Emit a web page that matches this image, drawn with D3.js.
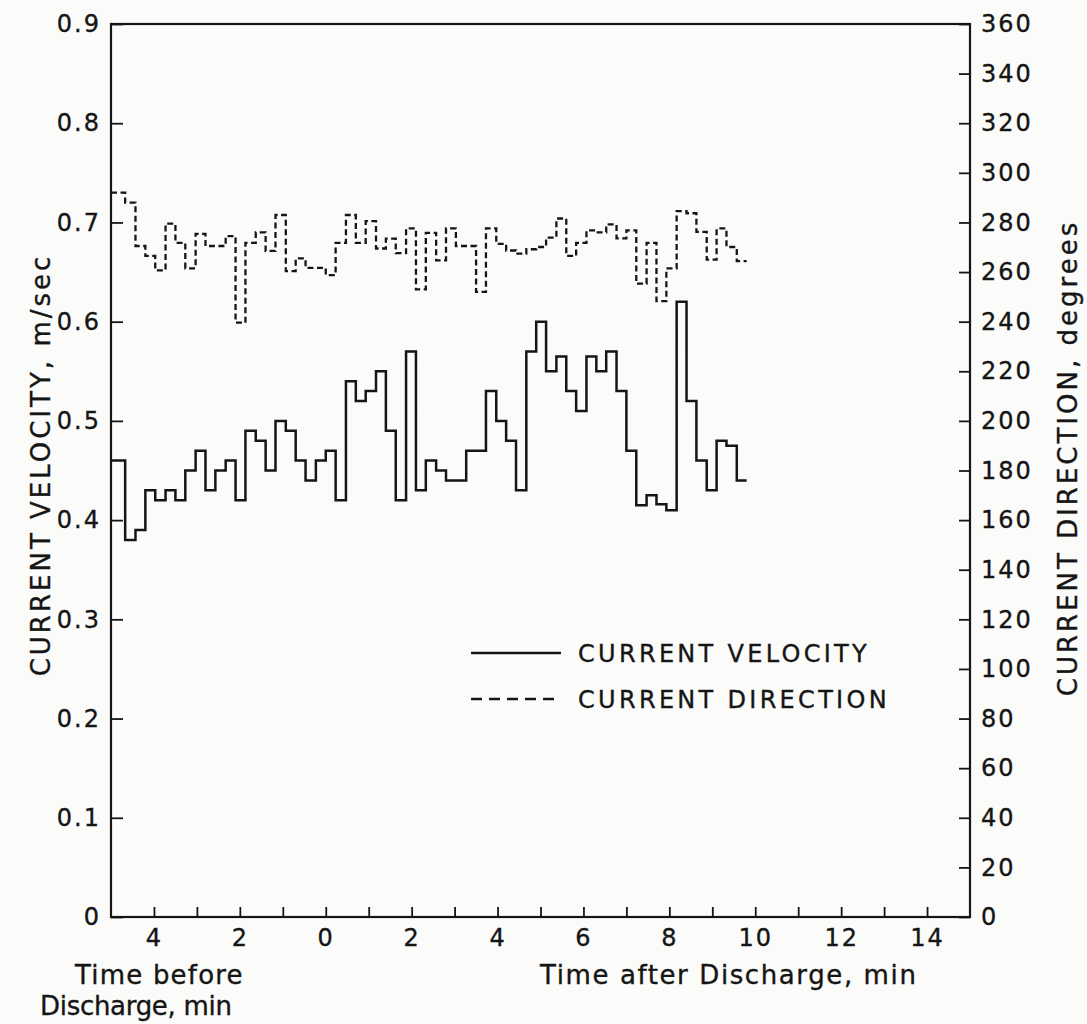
<!DOCTYPE html>
<html>
<head>
<meta charset="utf-8">
<script src="https://cdn.jsdelivr.net/npm/d3@7/dist/d3.min.js"></script>
<style>
  html, body { margin: 0; padding: 0; background: #fbfbf9; }
  svg { display: block; }
  text { font-family: "DejaVu Sans", sans-serif; fill: #151515; stroke: #151515; stroke-width: 0.35px; }
</style>
</head>
<body>
<svg id="chart" width="1087" height="1024"></svg>
<script>
// Step boundaries (minutes relative to discharge; negative = before discharge)
const stepTimes = [-5.00, -4.67, -4.43, -4.20, -3.97, -3.73, -3.50, -3.27, -3.03, -2.80,
  -2.57, -2.33, -2.10, -1.87, -1.63, -1.40, -1.17, -0.93, -0.70, -0.47,
  -0.23, 0.00, 0.23, 0.47, 0.70, 0.93, 1.17, 1.40, 1.63, 1.87,
  2.10, 2.33, 2.57, 2.80, 3.03, 3.27, 3.50, 3.73, 3.97, 4.20,
  4.43, 4.67, 4.90, 5.13, 5.37, 5.60, 5.83, 6.07, 6.30, 6.53,
  6.77, 7.00, 7.23, 7.47, 7.70, 7.93, 8.17, 8.40, 8.63, 8.87,
  9.10, 9.33, 9.57, 9.80];

// Current velocity, m/sec (one value per step)
const velocity = [0.46, 0.38, 0.39, 0.43, 0.42, 0.43, 0.42, 0.45, 0.47, 0.43,
  0.45, 0.46, 0.42, 0.49, 0.48, 0.45, 0.50, 0.49, 0.46, 0.44,
  0.46, 0.47, 0.42, 0.54, 0.52, 0.53, 0.55, 0.49, 0.42, 0.57,
  0.43, 0.46, 0.45, 0.44, 0.44, 0.47, 0.47, 0.53, 0.50, 0.48,
  0.43, 0.57, 0.60, 0.55, 0.565, 0.53, 0.51, 0.565, 0.55, 0.57,
  0.53, 0.47, 0.415, 0.425, 0.416, 0.41, 0.62, 0.52, 0.46, 0.43,
  0.48, 0.475, 0.44];

// Current direction, degrees (one value per step)
const direction = [292, 288, 270.5, 266.5, 260.7, 279.5, 271.8, 261.5, 275.4, 270.5,
  270.5, 274.5, 239.6, 271.8, 276, 268.5, 283, 260.4, 265.5, 261.7,
  261.7, 258.8, 271.8, 283, 271.8, 280.5, 269.5, 273.5, 267.6, 277.6,
  253, 275.8, 264.7, 277.6, 270.5, 270.5, 252, 277.6, 271.4, 268.7,
  267.4, 269.2, 270.1, 273.9, 281.6, 266.5, 271.8, 276.8, 276, 279.2,
  273.6, 276.8, 255.3, 271.8, 248.3, 261.5, 284.6, 283.7, 276.2, 265,
  277.6, 270.1, 264.4];

const xTickValues = [-4, -2, 0, 2, 4, 6, 8, 10, 12, 14];
const xTickLabels = ["4", "2", "0", "2", "4", "6", "8", "10", "12", "14"];
const xMinorTicks = [-4, -3, -2, -1, 0, 1, 2, 3, 4, 5, 6, 7, 8, 9, 10, 11, 12, 13, 14];
const velTicks = [0, 0.1, 0.2, 0.3, 0.4, 0.5, 0.6, 0.7, 0.8, 0.9];
const velTickLabels = ["0", "0.1", "0.2", "0.3", "0.4", "0.5", "0.6", "0.7", "0.8", "0.9"];
const dirTicks = [0, 20, 40, 60, 80, 100, 120, 140, 160, 180, 200, 220, 240, 260, 280, 300, 320, 340, 360];
const seriesNames = ["CURRENT VELOCITY", "CURRENT DIRECTION"];

const svg = d3.select("#chart");
const L = 111, R = 970, T = 24, B = 917;
const ink = "#151515";
const FONT = '"DejaVu Sans", sans-serif';

const x = d3.scaleLinear().domain([-5, 15]).range([L, R]);
const yV = d3.scaleLinear().domain([0, 0.9]).range([B, T]);
const yD = d3.scaleLinear().domain([0, 360]).range([B, T]);

// Frame
svg.append("rect")
  .attr("x", L).attr("y", T).attr("width", R - L).attr("height", B - T)
  .attr("fill", "none").attr("stroke", ink).attr("stroke-width", 2.2);

function styleAxis(g) {
  g.select(".domain").remove();
  g.selectAll(".tick line").attr("stroke", ink).attr("stroke-width", 1.8);
  g.selectAll(".tick text").attr("font-size", 24).attr("letter-spacing", 2)
    .style("font-family", FONT).attr("fill", ink);
}

// Bottom axis: minor ticks every minute, labels every 2
const xAxis = d3.axisBottom(x).tickValues(xMinorTicks)
  .tickSizeInner(-10).tickSizeOuter(0).tickPadding(12)
  .tickFormat(d => { const i = xTickValues.indexOf(d); return i >= 0 ? xTickLabels[i] : ""; });
svg.append("g").attr("transform", `translate(0,${B})`).call(xAxis).call(styleAxis);

// Left axis
const yAxisL = d3.axisLeft(yV).tickValues(velTicks)
  .tickSizeInner(-12).tickSizeOuter(0).tickPadding(10)
  .tickFormat((d, i) => velTickLabels[i]);
svg.append("g").attr("transform", `translate(${L},0)`).call(yAxisL).call(styleAxis);

// Right axis
const yAxisR = d3.axisRight(yD).tickValues(dirTicks)
  .tickSizeInner(-11).tickSizeOuter(0).tickPadding(11)
  .tickFormat(d3.format("d"));
svg.append("g").attr("transform", `translate(${R},0)`).call(yAxisR).call(styleAxis);

// Series
const velPts = stepTimes.map((t, i) => [t, velocity[Math.min(i, velocity.length - 1)]]);
const dirPts = stepTimes.map((t, i) => [t, direction[Math.min(i, direction.length - 1)]]);

const velLine = d3.line().x(d => x(d[0])).y(d => yV(d[1])).curve(d3.curveStepAfter);
const dirLine = d3.line().x(d => x(d[0])).y(d => yD(d[1])).curve(d3.curveStepAfter);

svg.append("path").attr("d", dirLine(dirPts))
  .attr("fill", "none").attr("stroke", ink).attr("stroke-width", 2.3)
  .attr("stroke-dasharray", "6,3.5");
svg.append("path").attr("d", velLine(velPts))
  .attr("fill", "none").attr("stroke", ink).attr("stroke-width", 2.5)
  .attr("stroke-linejoin", "miter");

// Legend
const lg = svg.append("g");
lg.append("line").attr("x1", 471).attr("x2", 561).attr("y1", 653).attr("y2", 653)
  .attr("stroke", ink).attr("stroke-width", 2.3);
lg.append("line").attr("x1", 471).attr("x2", 561).attr("y1", 699).attr("y2", 699)
  .attr("stroke", ink).attr("stroke-width", 2.3).attr("stroke-dasharray", "11,7");
lg.append("text").attr("x", 578).attr("y", 662).attr("font-size", 24).attr("letter-spacing", 3.3).text(seriesNames[0]);
lg.append("text").attr("x", 578).attr("y", 708).attr("font-size", 24).attr("letter-spacing", 3.3).text(seriesNames[1]);

// Axis titles
svg.append("text").attr("transform", "translate(50,465) rotate(-90)")
  .attr("text-anchor", "middle").attr("font-size", 26).attr("letter-spacing", 3)
  .text("CURRENT VELOCITY, m/sec");
svg.append("text").attr("transform", "translate(1077,458) rotate(-90)")
  .attr("text-anchor", "middle").attr("font-size", 26).attr("letter-spacing", 3)
  .text("CURRENT DIRECTION, degrees");

svg.append("text").attr("x", 75).attr("y", 984).attr("font-size", 26).attr("letter-spacing", 1.2)
  .text("Time before");
svg.append("text").attr("x", 40).attr("y", 1015).attr("font-size", 26).attr("letter-spacing", -0.3)
  .text("Discharge, min");
svg.append("text").attr("x", 540).attr("y", 984).attr("font-size", 26).attr("letter-spacing", 1.6)
  .text("Time after Discharge, min");
</script>
</body>
</html>
